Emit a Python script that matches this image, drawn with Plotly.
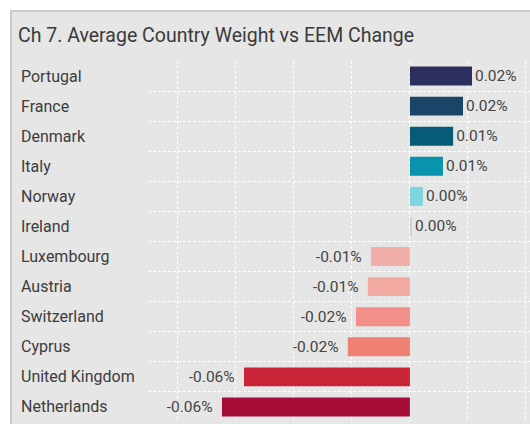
import plotly.graph_objects as go

# data (percent change), top to bottom
countries = ["Portugal", "France", "Denmark", "Italy", "Norway", "Ireland",
             "Luxembourg", "Austria", "Switzerland", "Cyprus",
             "United Kingdom", "Netherlands"]
change = [0.0214, 0.0183, 0.0149, 0.0114, 0.0045, 0.0007,
          -0.0134, -0.0145, -0.0186, -0.0214, -0.0572, -0.0648]

bar_colors = ["#2c2f5e", "#1a4568", "#085b77", "#0a93ac", "#7fd4e1", "#c3d3dd",
              "#f2aea9", "#f2aaa3", "#f28f88", "#f07f74", "#c92337", "#a60c38"]

W, H = 530, 424
L, R, T, B = 148, 0, 61, 2
pw = W - L - R
ph = H - T - B

# negative labels sit a bit further from the bar end
templates = ["%{x:.2f}%" if v >= 0 else "%{x:.2f}%\u2009\u2009" for v in change]

fig = go.Figure()
fig.add_trace(go.Bar(
    y=countries,
    x=change,
    orientation="h",
    marker=dict(color=bar_colors, line=dict(width=0)),
    texttemplate=templates,
    textposition="outside",
    textfont=dict(family="Roboto", size=15.5, color="#444444"),
    cliponaxis=False,
    hoverinfo="skip",
))

# left aligned country names
for c in countries:
    fig.add_annotation(x=(19 - L) / pw, xref="paper", xanchor="left",
                       y=c, yref="y", text=c, showarrow=False,
                       font=dict(family="Roboto", size=16, color="#3c3c3c"))

# grey panel with border
fig.add_shape(type="rect", xref="paper", yref="paper", layer="below",
              x0=(11 - L) / pw, x1=1.2,
              y0=-0.2, y1=(H - B - 11) / ph,
              fillcolor="#e6e6e6", line=dict(color="#cbcbcb", width=2))

fig.update_layout(
    width=W, height=H,
    margin=dict(l=L, r=R, t=T, b=B),
    paper_bgcolor="white",
    plot_bgcolor="rgba(0,0,0,0)",
    showlegend=False,
    bargap=0.37,
    title=dict(text="Ch 7. Average Country Weight vs EEM Change",
               xref="container", yref="container",
               x=18 / W, xanchor="left", y=1 - 35 / H, yanchor="middle",
               font=dict(family="Roboto", size=19.5, color="#3a3a3a")),
    xaxis=dict(range=[-0.0903, 0.0414], dtick=0.02, tick0=0,
               showticklabels=False, zeroline=False,
               showgrid=True, gridcolor="white", gridwidth=1,
               griddash="3px,2px", fixedrange=True),
    yaxis=dict(categoryorder="array", categoryarray=countries,
               autorange="reversed", tickson="boundaries",
               showticklabels=False, ticks="",
               showgrid=True, gridcolor="white", gridwidth=1,
               griddash="3px,2px", fixedrange=True),
)

fig.write_html("out.html",
               config={"displayModeBar": False},
               post_script="document.body.style.margin='0';"
                           "document.body.style.overflow='hidden';")
